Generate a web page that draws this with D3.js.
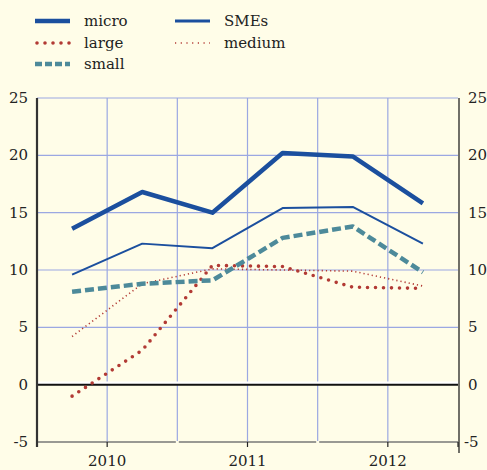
<!DOCTYPE html>
<html>
<head>
<meta charset="utf-8">
<script src="https://cdn.jsdelivr.net/npm/d3@7"></script>
<style>
  html, body { margin: 0; padding: 0; background: #fffde8; }
  svg { display: block; }
</style>
</head>
<body>
<div id="chart"></div>
<script>
// half-year periods, 2010 H1 .. 2012 H2
let periods = ["2010H1", "2010H2", "2011H1", "2011H2", "2012H1", "2012H2"];
let years = ["2010", "2011", "2012"];
let yTicks = [-5, 0, 5, 10, 15, 20, 25];

let micro  = [13.6, 16.8, 15.0, 20.2, 19.9, 15.8];
let smes   = [9.6, 12.3, 11.9, 15.4, 15.5, 12.3];
let small  = [8.1, 8.8, 9.1, 12.8, 13.8, 9.8];
let medium = [4.2, 8.8, 10.1, 10.0, 9.9, 8.6];
let large  = [-1.0, 3.0, 10.4, 10.3, 8.5, 8.4];

let series = [
    { name: "micro",  values: micro,  color: "#1b4f9e", width: 4.5, dash: null, cap: "butt" },
    { name: "SMEs",   values: smes,   color: "#1b4f9e", width: 2,   dash: null, cap: "butt" },
    { name: "small",  values: small,  color: "#4d8a9a", width: 4.5, dash: "9,4", cap: "butt" },
    { name: "medium", values: medium, color: "#b23a34", width: 1.6, dash: "1.2,3", cap: "butt" },
    { name: "large",  values: large,  color: "#b23a34", width: 3.6, dash: "0,8", cap: "round" }
];

let width = 487;
let height = 470;
let margin = ({ top: 98, right: 29, bottom: 28, left: 37 });
let font = "DejaVu Serif";

let x = d3.scaleLinear()
    .domain([0, periods.length])
    .range([margin.left, width - margin.right]);

let y = d3.scaleLinear()
    .domain([-5, 25])
    .range([height - margin.bottom, margin.top]);

let svg = d3.select("#chart")
    .append("svg")
    .attr("width", width)
    .attr("height", height)
    .attr("viewBox", [0, 0, width, height]);

svg.append("rect")
    .attr("width", width).attr("height", height)
    .attr("fill", "#fffde8");

let grid = "#9ba8e2";

// horizontal grid
svg.append("g")
    .selectAll("line")
    .data(yTicks.filter(d => d > -5 && d !== 0))
    .join("line")
    .attr("x1", x(0)).attr("x2", x(6))
    .attr("y1", d => y(d)).attr("y2", d => y(d))
    .attr("stroke", grid).attr("stroke-width", 1.2);

// vertical grid
svg.append("g")
    .selectAll("line")
    .data(d3.range(1, periods.length))
    .join("line")
    .attr("x1", d => x(d)).attr("x2", d => x(d))
    .attr("y1", y(25)).attr("y2", y(-5))
    .attr("stroke", grid).attr("stroke-width", 1.2);

// bottom axis (at -5) with downward ticks
svg.append("line")
    .attr("x1", x(0)).attr("x2", x(6))
    .attr("y1", y(-5)).attr("y2", y(-5))
    .attr("stroke", "#777").attr("stroke-width", 1.3);

svg.append("g")
    .selectAll("line")
    .data(d3.range(0, periods.length + 1))
    .join("line")
    .attr("x1", d => x(d)).attr("x2", d => x(d))
    .attr("y1", y(-5)).attr("y2", y(-5) + 5)
    .attr("stroke", "#222").attr("stroke-width", 1.2);

// small gaps at year boundaries
svg.append("g")
    .selectAll("rect")
    .data([2, 4])
    .join("rect")
    .attr("x", d => x(d) - 1.5).attr("y", y(-5) - 1)
    .attr("width", 3).attr("height", 7)
    .attr("fill", "#fffde8");

// zero line
svg.append("line")
    .attr("x1", x(0)).attr("x2", x(6))
    .attr("y1", y(0) - 2).attr("y2", y(0) - 2)
    .attr("stroke", "white").attr("stroke-width", 2.5);
svg.append("line")
    .attr("x1", x(0)).attr("x2", x(6))
    .attr("y1", y(0)).attr("y2", y(0))
    .attr("stroke", "#111").attr("stroke-width", 2);

// left and right axes
svg.append("line")
    .attr("x1", x(0)).attr("x2", x(0))
    .attr("y1", y(25)).attr("y2", y(-5) + 5)
    .attr("stroke", "#333").attr("stroke-width", 2.2);
svg.append("line")
    .attr("x1", x(6) + 1).attr("x2", x(6) + 1)
    .attr("y1", y(25)).attr("y2", y(-5) + 11)
    .attr("stroke", "#111").attr("stroke-width", 1.2);

// y labels
svg.append("g")
    .attr("font-family", font).attr("font-size", 15).attr("fill", "#222")
    .selectAll("text")
    .data(yTicks)
    .join("text")
    .attr("x", margin.left - 9)
    .attr("y", d => y(d) + 5)
    .attr("text-anchor", "end")
    .text(d => d);

svg.append("g")
    .attr("font-family", font).attr("font-size", 15).attr("fill", "#222")
    .selectAll("text")
    .data(yTicks)
    .join("text")
    .attr("x", d => d < 0 ? x(6) + 6 : x(6) + 10)
    .attr("y", d => y(d) + 5)
    .attr("text-anchor", "start")
    .text(d => d);

// year labels
svg.append("g")
    .attr("font-family", font).attr("font-size", 15).attr("fill", "#222")
    .selectAll("text")
    .data(years)
    .join("text")
    .attr("x", (d, i) => x(i * 2 + 1))
    .attr("y", height - 4)
    .attr("text-anchor", "middle")
    .text(d => d);

// series lines
let line = d3.line()
    .x((d, i) => x(i + 0.5))
    .y(d => y(d));

svg.append("g")
    .selectAll("path")
    .data(series.slice().reverse())
    .join("path")
    .attr("fill", "none")
    .attr("stroke", d => d.color)
    .attr("stroke-width", d => d.width)
    .attr("stroke-dasharray", d => d.dash)
    .attr("stroke-linecap", d => d.cap)
    .attr("stroke-linejoin", "round")
    .attr("d", d => line(d.values));

// legend
let legendPos = {
    micro: [35, 21], large: [35, 43], small: [35, 64],
    SMEs: [175, 21], medium: [175, 43]
};

let legend = svg.append("g")
    .selectAll("g")
    .data(series)
    .join("g")
    .attr("transform", d => `translate(${legendPos[d.name][0]},${legendPos[d.name][1]})`);

legend.append("line")
    .attr("x1", d => d.cap === "round" ? 2 : 0)
    .attr("x2", 35)
    .attr("stroke", d => d.color)
    .attr("stroke-width", d => d.name === "SMEs" ? 3 : d.width)
    .attr("stroke-dasharray", d => d.name === "small" ? "7,3" : d.name === "large" ? "0,8" : d.name === "medium" ? "1.2,4.5" : null)
    .attr("stroke-linecap", d => d.cap);

legend.append("text")
    .attr("x", 49)
    .attr("y", 5)
    .attr("font-family", font).attr("font-size", 15).attr("fill", "#222")
    .text(d => d.name);
</script>
</body>
</html>
